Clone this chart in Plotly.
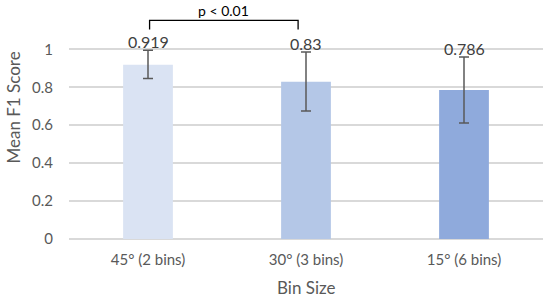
import plotly.graph_objects as go

categories = ["45° (2 bins)", "30° (3 bins)", "15° (6 bins)"]
mean_f1 = [0.919, 0.83, 0.786]
err_up = [0.076, 0.156, 0.174]
err_down = [0.072, 0.155, 0.174]
bar_colors = ["#DAE3F3", "#B4C7E7", "#8FAADC"]
label_text = ["0.919", "0.83", "0.786"]

font = "Lato, 'Open Sans', sans-serif"
grey = "#595959"

fig = go.Figure()
fig.add_trace(go.Bar(
    x=categories, y=mean_f1, width=0.315,
    marker=dict(color=bar_colors, line=dict(width=0)),
    error_y=dict(type="data", symmetric=False, array=err_up, arrayminus=err_down,
                 color=grey, thickness=1.5, width=5),
))

# value labels above the error bars
for c, v, e, t in zip(categories, mean_f1, err_up, label_text):
    fig.add_annotation(x=c, y=v + e, text=t, showarrow=False, yanchor="bottom",
                       yshift=-3, font=dict(size=16, color="#404040", family=font))

# significance bracket between first two bars
fig.add_shape(type="path", xref="x", yref="y",
              path="M 0.01,1.105 L 0.01,1.153 L 0.95,1.153 L 0.95,1.105",
              line=dict(color="black", width=1.3))
fig.add_annotation(x=0.48, y=1.153, text="p < 0.01", showarrow=False, yanchor="bottom",
                   yshift=-1, font=dict(size=14, color="black", family=font))

# axis titles
fig.add_annotation(xref="paper", yref="paper", x=0.5, y=-0.205, yanchor="middle",
                   text="Bin Size", showarrow=False, font=dict(size=17, color=grey, family=font))
fig.add_annotation(xref="paper", yref="paper", x=-0.118, y=0.555, xanchor="center",
                   text="Mean F1 Score", textangle=-90, showarrow=False,
                   font=dict(size=17, color=grey, family=font))

fig.update_layout(
    width=550, height=303, template="plotly_white",
    margin=dict(l=69, r=7, t=2, b=64),
    plot_bgcolor="white", paper_bgcolor="white",
    showlegend=False,
    font=dict(family=font, color=grey, size=15),
)
fig.update_xaxes(automargin=False, showgrid=False, showline=False, ticks="",
                 tickfont=dict(size=15, color=grey), ticklabelstandoff=10,
                 range=[-0.5, 2.5])
fig.update_yaxes(automargin=False,
                 range=[0, 1.25], tickvals=[0, 0.2, 0.4, 0.6, 0.8, 1],
                 ticktext=["0", "0.2", "0.4", "0.6", "0.8", "1"],
                 gridcolor="#D9D9D9", gridwidth=1.5, zeroline=True, zerolinecolor="#D9D9D9",
                 zerolinewidth=1.5, showline=False, ticks="", ticklabelstandoff=15,
                 tickfont=dict(size=15, color=grey))

fig.write_html("out.html", config={"displayModeBar": False},
               post_script="document.body.style.margin='0';")
